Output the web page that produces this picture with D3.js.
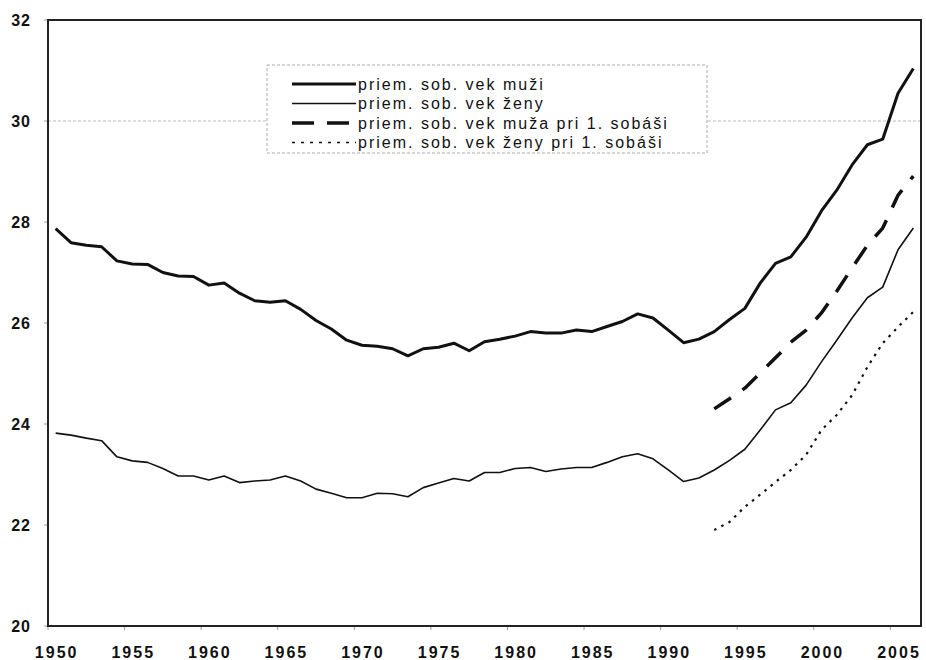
<!DOCTYPE html>
<html>
<head>
<meta charset="utf-8">
<script src="https://cdn.jsdelivr.net/npm/d3@7"></script>
<style>
  body { margin: 0; background: #fff; }
  text { font-family: "Liberation Sans", Arial, sans-serif; fill: #111; }
</style>
</head>
<body>
<script>
// categories
let years = d3.range(1950, 2007)
let marriageYears = d3.range(1993, 2007)
let yTicks = [20, 22, 24, 26, 28, 30, 32]

// series
let muzi = [27.87, 27.59, 27.54, 27.51, 27.23, 27.17, 27.16, 27.00, 26.93, 26.92,
            26.75, 26.79, 26.59, 26.44, 26.41, 26.44, 26.27, 26.05, 25.88, 25.66,
            25.56, 25.54, 25.49, 25.35, 25.49, 25.52, 25.60, 25.45, 25.63, 25.68,
            25.74, 25.83, 25.80, 25.80, 25.86, 25.83, 25.93, 26.03, 26.18, 26.10,
            25.86, 25.61, 25.68, 25.83, 26.07, 26.29, 26.79, 27.18, 27.31, 27.70,
            28.22, 28.63, 29.13, 29.53, 29.64, 30.55, 31.04]
let zeny = [23.82, 23.78, 23.72, 23.67, 23.35, 23.27, 23.24, 23.12, 22.97, 22.97,
            22.89, 22.97, 22.84, 22.87, 22.89, 22.97, 22.87, 22.71, 22.63, 22.54,
            22.54, 22.63, 22.62, 22.56, 22.74, 22.83, 22.92, 22.87, 23.04, 23.04,
            23.12, 23.14, 23.06, 23.11, 23.14, 23.14, 23.24, 23.35, 23.41, 23.31,
            23.09, 22.86, 22.93, 23.09, 23.28, 23.50, 23.88, 24.28, 24.42, 24.77,
            25.23, 25.66, 26.10, 26.50, 26.71, 27.45, 27.88]
let muzaPrvy = [24.30, 24.50, 24.71, 25.01, 25.31, 25.62, 25.86, 26.20, 26.63, 27.09,
                27.54, 27.88, 28.53, 28.91]
let zenyPrvy = [21.90, 22.06, 22.36, 22.60, 22.85, 23.09, 23.39, 23.88, 24.18, 24.57,
                25.13, 25.60, 25.92, 26.22]

let width = 926
let height = 660
let padLeft = 48, padRight = 921, padTop = 20, padBottom = 626

let svg = d3.select('body').append('svg')
    .attr('width', width)
    .attr('height', height)

let xScale = d3.scaleBand()
    .domain(years)
    .range([padLeft, padRight])
    .padding(0)

let yScale = d3.scaleLinear()
    .domain([20, 32])
    .range([padBottom, padTop])

let xc = (yr) => xScale(yr) + xScale.bandwidth() / 2

// gridline at 30 (faint, as in the scan)
svg.append('line')
    .attr('x1', padLeft).attr('x2', padRight)
    .attr('y1', yScale(30)).attr('y2', yScale(30))
    .attr('stroke', '#bbb')
    .attr('stroke-width', 1)
    .attr('stroke-dasharray', '3,2')

// x ticks at band boundaries every 5 years
let xTickYears = years.filter(y => (y - 1950) % 5 === 0)
svg.selectAll('.xtick')
    .data(xTickYears)
    .enter()
    .append('line')
    .attr('x1', d => xScale(d)).attr('x2', d => xScale(d))
    .attr('y1', padBottom).attr('y2', padBottom + 4)
    .attr('stroke', '#999')

svg.selectAll('.xlabel')
    .data(xTickYears)
    .enter()
    .append('text')
    .attr('x', d => xc(d) + 1)
    .attr('y', padBottom + 32)
    .attr('text-anchor', 'middle')
    .attr('font-size', 16)
    .attr('font-weight', 'bold')
    .attr('letter-spacing', 2)
    .text(d => d)

// y ticks and labels
svg.selectAll('.ytick')
    .data(yTicks)
    .enter()
    .append('line')
    .attr('x1', padLeft - 4).attr('x2', padLeft)
    .attr('y1', d => yScale(d)).attr('y2', d => yScale(d))
    .attr('stroke', '#999')

svg.selectAll('.ylabel')
    .data(yTicks)
    .enter()
    .append('text')
    .attr('x', 31)
    .attr('y', d => yScale(d))
    .attr('dy', '0.35em')
    .attr('text-anchor', 'end')
    .attr('font-size', 16)
    .attr('font-weight', 'bold')
    .attr('letter-spacing', 1)
    .text(d => d)

// frame
svg.append('rect')
    .attr('x', padLeft).attr('y', padTop)
    .attr('width', padRight - padLeft).attr('height', padBottom - padTop)
    .attr('fill', 'none')
    .attr('stroke', '#222')
    .attr('stroke-width', 2)

let line = d3.line()
    .x(d => xc(d[0]))
    .y(d => yScale(d[1]))

let series = [
    { name: 'priem. sob. vek muži', yrs: years, vals: muzi, w: 3, dash: null },
    { name: 'priem. sob. vek ženy', yrs: years, vals: zeny, w: 1.6, dash: null },
    { name: 'priem. sob. vek muža pri 1. sobáši', yrs: marriageYears, vals: muzaPrvy, w: 3.5, dash: '20,14' },
    { name: 'priem. sob. vek ženy pri 1. sobáši', yrs: marriageYears, vals: zenyPrvy, w: 2.2, dash: '2.5,5.5' }
]

series.forEach(s => {
    svg.append('path')
        .datum(s.yrs.map((y, i) => [y, s.vals[i]]))
        .attr('fill', 'none')
        .attr('stroke', '#111')
        .attr('stroke-width', s.w)
        .attr('stroke-linejoin', 'round')
        .attr('stroke-dasharray', s.dash)
        .attr('d', line)
})

// legend
let legend = svg.append('g')
legend.append('rect')
    .attr('x', 267).attr('y', 65)
    .attr('width', 440).attr('height', 88)
    .attr('fill', '#fff')
    .attr('stroke', '#aaa')
    .attr('stroke-width', 1)
    .attr('stroke-dasharray', '3,2')

let legendDash = [null, null, '22,13', '3,6']
series.forEach((s, i) => {
    let ly = 84 + i * 19.5
    legend.append('line')
        .attr('x1', 292).attr('x2', 356)
        .attr('y1', ly).attr('y2', ly)
        .attr('stroke', '#111')
        .attr('stroke-width', i === 3 ? 1.6 : s.w)
        .attr('stroke-dasharray', legendDash[i])
    legend.append('text')
        .attr('x', 358)
        .attr('y', ly)
        .attr('dy', '0.35em')
        .attr('font-size', 16)
        .attr('letter-spacing', 2)
        .text(s.name)
})
</script>
</body>
</html>
